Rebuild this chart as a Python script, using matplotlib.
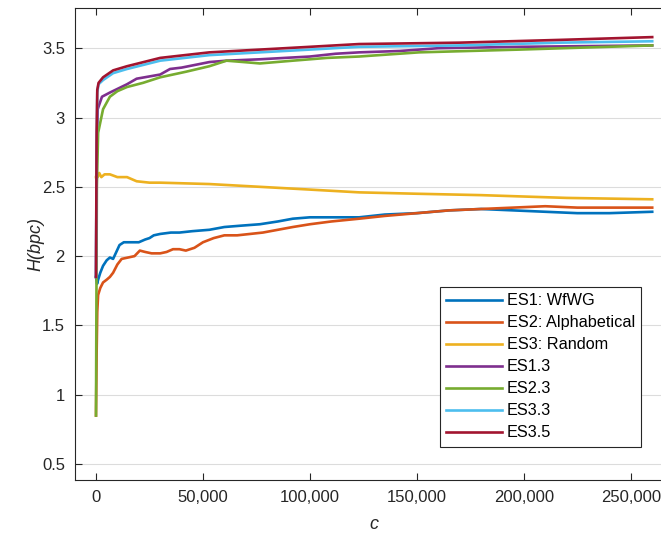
import matplotlib
matplotlib.use('Agg')
import matplotlib.pyplot as plt
from matplotlib.ticker import FuncFormatter

plt.rcParams['font.family'] = ['Liberation Sans', 'DejaVu Sans']

# series
es1_x = [0, 500, 1000, 2000, 3300, 5000, 6500, 8000, 9500, 11000, 13000, 16000, 20000, 23000, 25000, 27000,
         30000, 35000, 39000, 45000, 53000, 60000, 68000, 76600, 85000, 92000, 100000, 110000, 123000,
         135000, 150000, 165000, 180000, 195000, 210000, 225000, 240000, 260000]
es1_y = [1.85, 1.80, 1.83, 1.88, 1.93, 1.97, 1.99, 1.98, 2.03, 2.08, 2.10, 2.10, 2.10, 2.12, 2.13, 2.15,
         2.16, 2.17, 2.17, 2.18, 2.19, 2.21, 2.22, 2.23, 2.25, 2.27, 2.28, 2.28, 2.28,
         2.30, 2.31, 2.33, 2.34, 2.33, 2.32, 2.31, 2.31, 2.32]

es2_x = [0, 300, 600, 1000, 2000, 3300, 5000, 6500, 8000, 10000, 12000, 15000, 18000, 20500, 23000, 26000,
         30000, 33000, 36000, 39000, 42000, 46000, 50000, 55000, 60000, 66000, 72000, 78000, 85000, 92000,
         100000, 110000, 123000, 135000, 150000, 165000, 180000, 195000, 210000, 225000, 240000, 260000]
es2_y = [0.85, 1.30, 1.60, 1.72, 1.77, 1.81, 1.83, 1.85, 1.88, 1.94, 1.98, 1.99, 2.00, 2.04, 2.03, 2.02,
         2.02, 2.03, 2.05, 2.05, 2.04, 2.06, 2.10, 2.13, 2.15, 2.15, 2.16, 2.17, 2.19, 2.21,
         2.23, 2.25, 2.27, 2.29, 2.31, 2.33, 2.34, 2.35, 2.36, 2.35, 2.35, 2.35]

es3_x = [0, 800, 1500, 2500, 4000, 6500, 10000, 14500, 19000, 25000, 30000, 53000, 76600, 100000, 123000,
         150000, 180000, 220000, 260000]
es3_y = [2.57, 2.57, 2.60, 2.57, 2.59, 2.59, 2.57, 2.57, 2.54, 2.53, 2.53, 2.52, 2.50, 2.48, 2.46,
         2.45, 2.44, 2.42, 2.41]

es13_x = [0, 300, 800, 2800, 6500, 14500, 19000, 30000, 34600, 40000, 53000, 61000, 76600, 100000, 112000,
          123000, 142000, 160000, 198000, 260000]
es13_y = [1.85, 2.70, 3.06, 3.15, 3.18, 3.24, 3.28, 3.31, 3.35, 3.36, 3.40, 3.41, 3.42, 3.44, 3.46,
          3.47, 3.48, 3.50, 3.51, 3.52]

es23_x = [0, 400, 1000, 3300, 6500, 10000, 14500, 22000, 30000, 42000, 53000, 61000, 69000, 76600, 92000,
          108000, 123000, 151000, 198000, 260000]
es23_y = [0.85, 2.50, 2.89, 3.06, 3.15, 3.19, 3.22, 3.25, 3.29, 3.33, 3.37, 3.41, 3.40, 3.39, 3.41,
          3.43, 3.44, 3.47, 3.49, 3.52]

es33_x = [0, 300, 600, 1200, 3300, 8000, 14500, 30000, 53000, 76600, 100000, 123000, 170000, 217000, 260000]
es33_y = [1.85, 2.80, 3.18, 3.24, 3.27, 3.32, 3.35, 3.41, 3.45, 3.47, 3.49, 3.51, 3.52, 3.54, 3.55]

es35_x = [0, 300, 600, 1200, 3300, 8000, 14500, 30000, 53000, 76600, 100000, 123000, 170000, 217000, 260000]
es35_y = [1.85, 2.90, 3.20, 3.25, 3.29, 3.34, 3.37, 3.43, 3.47, 3.49, 3.51, 3.53, 3.54, 3.56, 3.58]

names = ['ES1: WfWG', 'ES2: Alphabetical', 'ES3: Random', 'ES1.3', 'ES2.3', 'ES3.3', 'ES3.5']
colors = ['#0072BD', '#D95319', '#EDB120', '#7E2F8E', '#77AC30', '#4DBEEE', '#A2142F']
xs = [es1_x, es2_x, es3_x, es13_x, es23_x, es33_x, es35_x]
ys = [es1_y, es2_y, es3_y, es13_y, es23_y, es33_y, es35_y]

x_ticks = [0, 50000, 100000, 150000, 200000, 250000]
y_ticks = [0.5, 1, 1.5, 2, 2.5, 3, 3.5]

fig = plt.figure(figsize=(6.61, 5.40), dpi=100)
ax = fig.add_axes([74.6 / 661, 60 / 540, 599 / 661, 472 / 540])

for x, y, c, n in zip(xs, ys, colors, names):
    ax.plot(x, y, color=c, lw=1.9, label=n)

ax.set_xlim(-10000, 270000)
ax.set_ylim(0.385, 3.79)
ax.set_xticks(x_ticks)
ax.set_yticks(y_ticks)
ax.xaxis.set_major_formatter(FuncFormatter(lambda v, p: f'{int(v):,}'))
ax.yaxis.set_major_formatter(FuncFormatter(lambda v, p: f'{v:g}'))
ax.grid(axis='y', color='#dcdcdc', lw=0.8)
ax.set_axisbelow(True)

ax.tick_params(direction='in', length=5, width=0.8, colors='#262626', labelsize=12,
               top=True, right=True, pad=7)
for s in ax.spines.values():
    s.set_color('#262626')
    s.set_linewidth(0.8)

ax.set_xlabel('c', fontsize=13, style='italic', color='#262626', labelpad=8)
ax.set_ylabel('H(bpc)', fontsize=13, style='italic', color='#262626', labelpad=-2)

leg = ax.legend(loc='upper left', bbox_to_anchor=(0.610, 0.409), borderaxespad=0, fontsize=11.7,
                fancybox=False, framealpha=1, edgecolor='#262626', handlelength=3.4,
                handletextpad=0.3, borderpad=0.4, labelspacing=0.43)
leg.get_frame().set_linewidth(0.8)

fig.savefig('out.png', dpi=100)
